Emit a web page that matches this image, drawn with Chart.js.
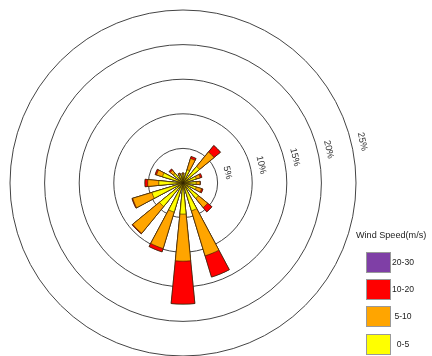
<!DOCTYPE html>
<html>
<head>
<meta charset="utf-8">
<script src="https://cdn.jsdelivr.net/npm/chart.js@4"></script>
<style>
  html, body { margin: 0; padding: 0; background: #fff; }
  #wrap { width: 432px; height: 356px; }
</style>
</head>
<body>
<div id="wrap"><canvas id="windRose" width="432" height="356"></canvas></div>
<script>
// Wind rose - frequency (%) per direction, stacked by wind speed bin
const directions = ['N', 'NNE', 'NE', 'ENE', 'E', 'ESE', 'SE', 'SSE',
                    'S', 'SSW', 'SW', 'WSW', 'W', 'WNW', 'NW', 'NNW'];
const speedBins = ['0-5', '5-10', '10-20', '20-30'];

const speed0to5   = [1.2, 2.0, 3.1, 2.0, 1.9, 2.0, 2.9, 4.2, 4.5, 4.4, 4.4, 4.7, 3.5, 3.1, 1.8, 1.2];
const speed5to10  = [0.2, 1.7, 2.7, 0.6, 0.55, 0.8, 1.7, 6.8, 6.8, 5.5, 5.0, 2.9, 1.6, 0.9, 0.6, 0.2];
const speed10to20 = [0.05, 0.3, 1.2, 0.25, 0.05, 0.2, 0.8, 3.2, 6.2, 0.5, 0.1, 0.1, 0.4, 0.2, 0.2, 0.1];
const speed20to30 = [0, 0, 0, 0, 0, 0, 0, 0, 0, 0, 0, 0, 0, 0, 0, 0];

const ringTicks = [5, 10, 15, 20, 25];
const binColors = ['#FFFF00', '#FFA500', '#FF0000', '#7F3FA6'];

// each direction gets a bar half as wide as its sector: pad with an empty slot
function withGaps(values, filler) {
    const out = [];
    values.forEach(v => { out.push(v); out.push(filler); });
    return out;
}

// polarArea can't stack, so every dataset holds the running total;
// dataset 0 is painted last (on top), so the inner bin stays visible
const bins = [speed0to5, speed5to10, speed10to20, speed20to30];
let running = directions.map(() => 0);
const datasets = bins.map((bin, i) => {
    running = running.map((v, k) => v + bin[k]);
    return {
        label: speedBins[i],
        data: withGaps(running, 0),
        backgroundColor: binColors[i],
        borderColor: 'rgba(50, 35, 0, 0.8)',
        borderWidth: ctx => (ctx.dataIndex % 2 ? 0 : 0.8)
    };
});

// rotated percent labels just outside each ring
const ringLabels = {
    id: 'ringLabels',
    afterDraw(chart) {
        const scale = chart.scales.r;
        const ctx = chart.ctx;
        const a = 13 * Math.PI / 180;
        ctx.save();
        ctx.font = '9.3px "Liberation Sans", Arial, sans-serif';
        ctx.fillStyle = '#333';
        ctx.textAlign = 'center';
        ctx.textBaseline = 'middle';
        ringTicks.forEach(v => {
            const r = scale.getDistanceFromCenterForValue(v) + 11;
            const x = scale.xCenter + r * Math.cos(a);
            const y = scale.yCenter - r * Math.sin(a);
            ctx.save();
            ctx.translate(x, y);
            ctx.rotate(Math.PI / 2 - a);
            ctx.fillText(v + '%', 0, 0);
            ctx.restore();
        });
        ctx.restore();
    }
};

// speed legend in the bottom right corner, highest bin on top
const speedLegend = {
    id: 'speedLegend',
    afterDraw(chart) {
        const ctx = chart.ctx;
        const x0 = chart.chartArea.right + 10;
        ctx.save();
        ctx.textBaseline = 'middle';
        ctx.fillStyle = '#222';
        ctx.textAlign = 'left';
        ctx.font = '9.1px "Liberation Sans", Arial, sans-serif';
        ctx.fillText('Wind Speed(m/s)', x0 - 10, 235);
        ctx.textAlign = 'center';
        ctx.font = '8.6px "Liberation Sans", Arial, sans-serif';
        let row = 0;
        for (let i = speedBins.length - 1; i >= 0; i--, row++) {
            const top = Math.round(252 + row * 27.2) + 0.5;
            ctx.fillStyle = binColors[i];
            ctx.fillRect(x0 + 0.5, top, 24, 20);
            ctx.strokeStyle = '#999';
            ctx.lineWidth = 1;
            ctx.strokeRect(x0 + 0.5, top, 24, 20);
            ctx.fillStyle = '#222';
            ctx.fillText(speedBins[i], x0 + 37, top + 10);
        }
        ctx.restore();
    }
};

new Chart(document.getElementById('windRose').getContext('2d'), {
    type: 'polarArea',
    data: {
        labels: withGaps(directions, ''),
        datasets: datasets
    },
    options: {
        responsive: false,
        animation: false,
        devicePixelRatio: 1,
        layout: { padding: { left: 10, right: 76, top: 10, bottom: 0 } },
        plugins: {
            legend: { display: false },
            tooltip: { enabled: false }
        },
        scales: {
            r: {
                min: 0,
                max: 25,
                startAngle: -360 / 64, // centre first bar on north
                ticks: { display: false, stepSize: 5 },
                grid: { circular: true, color: '#444', lineWidth: 1 },
                angleLines: { display: false },
                pointLabels: { display: false }
            }
        }
    },
    plugins: [ringLabels, speedLegend]
});
</script>
</body>
</html>
